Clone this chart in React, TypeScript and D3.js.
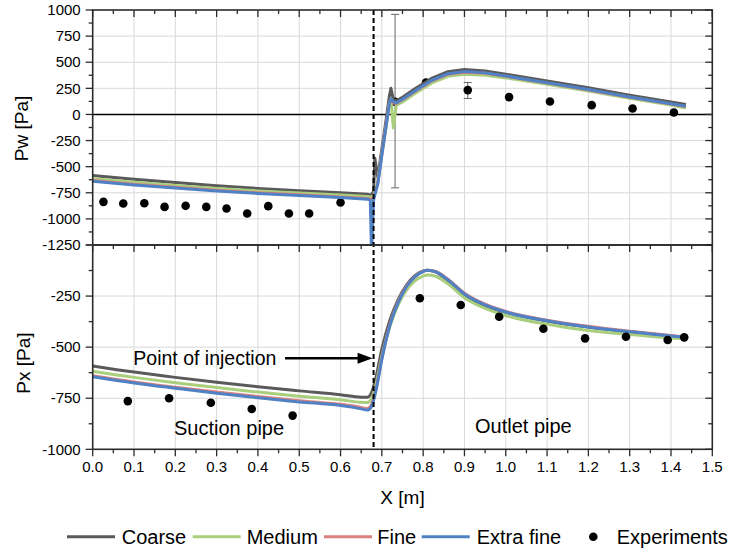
import React from 'react';
import * as d3 from 'd3';

// ---------- data ----------
const seriesNames = ['Coarse', 'Medium', 'Fine', 'Extra fine'];
const seriesColors = ['#5a5a5a', '#a9cf7d', '#dc817d', '#4f81c4'];

const xTicks = [0, 0.1, 0.2, 0.3, 0.4, 0.5, 0.6, 0.7, 0.8, 0.9, 1.0, 1.1, 1.2, 1.3, 1.4, 1.5];
const pwTicks = [1000, 750, 500, 250, 0, -250, -500, -750, -1000, -1250];
const pxTicks = [-250, -500, -750, -1000];

// Pw (top panel)
const pwX = [0, 0.1, 0.2, 0.3, 0.4, 0.5, 0.6, 0.665, 0.672, 0.675, 0.68, 0.683, 0.69, 0.7, 0.71, 0.718, 0.722, 0.728, 0.735, 0.75, 0.78, 0.82, 0.86, 0.9, 0.95, 1.0, 1.1, 1.2, 1.3, 1.4, 1.436];
const pwCoarse = [-585, -620, -652, -682, -708, -730, -750, -765, -770, -765, -740, -420, -600, -330, -60, 170, 250, 140, 130, 165, 245, 345, 410, 430, 415, 385, 320, 255, 185, 120, 96];
const pwMedium = [-615, -650, -680, -708, -732, -752, -772, -785, -790, -790, -780, -740, -640, -380, -120, 100, 150, -130, 90, 120, 200, 300, 365, 385, 375, 350, 290, 225, 155, 90, 62];
const pwFine = [-632, -668, -698, -725, -750, -770, -790, -805, -810, -810, -800, -760, -660, -380, -110, 110, 140, 110, 105, 140, 220, 320, 385, 405, 395, 365, 300, 235, 165, 100, 75];
const pwExtra = [-640, -675, -705, -732, -756, -776, -796, -812, -818, -1320, -820, -770, -670, -390, -120, 100, 150, 120, 110, 145, 225, 325, 390, 410, 398, 368, 303, 238, 168, 103, 78];

const pwExpX = [0.026, 0.074, 0.125, 0.174, 0.225, 0.275, 0.324, 0.374, 0.425, 0.475, 0.524, 0.6, 0.732, 0.807, 0.908, 1.008, 1.107, 1.208, 1.307, 1.407];
const pwExpY = [-837, -852, -850, -885, -875, -885, -900, -948, -878, -948, -948, -843, 121, 305, 233, 166, 124, 89, 57, 19];
const pwErrX = [0.732, 0.908];
const pwErrLo = [-703, 153];
const pwErrHi = [958, 306];

// Px (bottom panel)
const pxX = [0, 0.1, 0.2, 0.3, 0.4, 0.5, 0.6, 0.65, 0.665, 0.675, 0.685, 0.7, 0.72, 0.74, 0.76, 0.78, 0.8, 0.81, 0.83, 0.86, 0.9, 0.95, 1.0, 1.1, 1.2, 1.3, 1.4, 1.436];
const pxCoarse = [-592, -622, -648, -672, -694, -714, -733, -745, -745, -722, -655, -510, -365, -265, -195, -150, -127, -123, -132, -175, -245, -298, -330, -372, -402, -425, -445, -452];
const pxMedium = [-618, -648, -674, -698, -720, -740, -758, -770, -771, -752, -690, -545, -395, -290, -220, -175, -152, -147, -153, -190, -258, -310, -345, -388, -418, -438, -455, -458];
const pxFine = [-640, -670, -696, -720, -742, -762, -780, -795, -800, -780, -712, -555, -385, -275, -200, -155, -129, -124, -130, -168, -236, -290, -325, -368, -398, -422, -443, -451];
const pxExtra = [-645, -675, -701, -726, -748, -768, -786, -802, -808, -790, -720, -560, -390, -280, -203, -156, -130, -124, -131, -170, -240, -293, -328, -371, -401, -425, -445, -452];

const pxExpX = [0.085, 0.185, 0.286, 0.385, 0.484, 0.792, 0.891, 0.984, 1.091, 1.192, 1.291, 1.392, 1.432];
const pxExpY = [-764, -750, -772, -803, -835, -261, -294, -351, -410, -457, -449, -465, -452];

const injectionX = 0.68;

// ---------- layout ----------
const W = 732, H = 553;
const L = 92.7, R = 712.3, T = 10, M = 245, B = 449.3;
const FONT = '"Liberation Sans", Arial, Helvetica, sans-serif';

export default function App() {
  const x = d3.scaleLinear().domain([0, 1.5]).range([L, R]);
  const yw = d3.scaleLinear().domain([-1250, 1000]).range([M, T]);
  const yx = d3.scaleLinear().domain([-1000, 0]).range([B, M]);

  const pwSeries = [pwCoarse, pwMedium, pwFine, pwExtra];
  const pxSeries = [pxCoarse, pxMedium, pxFine, pxExtra];

  const lineW = d3.line<number>().x((_, i) => x(pwX[i])).y((d) => yw(d)).curve(d3.curveLinear);
  const lineX = d3.line<number>().x((_, i) => x(pxX[i])).y((d) => yx(d)).curve(d3.curveMonotoneX);

  const xMinor = d3.range(0, 1.5001, 0.05);
  const pwMinor = d3.range(-1250, 1000.1, 125);
  const pxMinor = d3.range(-1000, 0.1, 125);

  const frame = '#2b2b2b';
  const grid = '#d9d9d9';

  const legendItems = [
    { name: seriesNames[0], color: seriesColors[0], x0: 67, tx: 121.7 },
    { name: seriesNames[1], color: seriesColors[1], x0: 192.7, tx: 246.7 },
    { name: seriesNames[2], color: seriesColors[2], x0: 324, tx: 377.3 },
    { name: seriesNames[3], color: seriesColors[3], x0: 421.7, tx: 476.7 },
  ];
  const legY = 536.7;

  return (
    <svg width={W} height={H} style={{ position: 'absolute', left: 0, top: 0, display: 'block', background: '#fff' }} fontFamily={FONT}>
      <defs>
        <clipPath id="clipTop"><rect x={L} y={T} width={R - L} height={M - T} /></clipPath>
        <clipPath id="clipBot"><rect x={L} y={M} width={R - L} height={B - M} /></clipPath>
      </defs>
      <rect width={W} height={H} fill="#fff" />

      {/* grids */}
      {xTicks.slice(1, -1).map((t) => (
        <g key={'gx' + t}>
          <line x1={x(t)} x2={x(t)} y1={T} y2={M} stroke={grid} strokeWidth={1} />
          <line x1={x(t)} x2={x(t)} y1={M} y2={B} stroke={grid} strokeWidth={1} />
        </g>
      ))}
      {pwTicks.slice(1, -1).filter((t) => t !== 0).map((t) => (
        <line key={'gw' + t} x1={L} x2={R} y1={yw(t)} y2={yw(t)} stroke={grid} strokeWidth={1} />
      ))}
      {pxTicks.slice(0, -1).map((t) => (
        <line key={'gp' + t} x1={L} x2={R} y1={yx(t)} y2={yx(t)} stroke={grid} strokeWidth={1} />
      ))}

      {/* zero line */}
      <line x1={L} x2={R} y1={yw(0)} y2={yw(0)} stroke="#000" strokeWidth={1.5} />

      {/* top panel: experiments (under lines) */}
      <g clipPath="url(#clipTop)">
        {pwErrX.map((ex, i) => (
          <g key={'err' + i} stroke="#666" strokeWidth={1}>
            <line x1={x(ex)} x2={x(ex)} y1={yw(pwErrLo[i])} y2={yw(pwErrHi[i])} />
            <line x1={x(ex) - 4} x2={x(ex) + 4} y1={yw(pwErrLo[i])} y2={yw(pwErrLo[i])} />
            <line x1={x(ex) - 4} x2={x(ex) + 4} y1={yw(pwErrHi[i])} y2={yw(pwErrHi[i])} />
          </g>
        ))}
        {pwExpX.map((ex, i) => (
          <circle key={'pwe' + i} cx={x(ex)} cy={yw(pwExpY[i])} r={4.3} fill="#000" />
        ))}
        {pwSeries.map((s, i) => (
          <path key={'pw' + i} d={lineW(s) || ''} fill="none" stroke={seriesColors[i]} strokeWidth={3} strokeLinejoin="round" />
        ))}
      </g>

      {/* bottom panel */}
      <g clipPath="url(#clipBot)">
        {pxSeries.map((s, i) => (
          <path key={'px' + i} d={lineX(s) || ''} fill="none" stroke={seriesColors[i]} strokeWidth={3} strokeLinejoin="round" />
        ))}
        {pxExpX.map((ex, i) => (
          <circle key={'pxe' + i} cx={x(ex)} cy={yx(pxExpY[i])} r={4.3} fill="#000" />
        ))}
      </g>

      {/* injection dashed line */}
      <line x1={x(injectionX)} x2={x(injectionX)} y1={T} y2={B} stroke="#000" strokeWidth={2} strokeDasharray="5,3" />

      {/* frames */}
      <rect x={L} y={T} width={R - L} height={M - T} fill="none" stroke={frame} strokeWidth={1.6} />
      <rect x={L} y={M} width={R - L} height={B - M} fill="none" stroke={frame} strokeWidth={1.6} />

      {/* x ticks */}
      {xMinor.map((t, i) => {
        const len = i % 2 === 0 ? 7 : 4;
        return (
          <g key={'xt' + i} stroke={frame} strokeWidth={1.3}>
            <line x1={x(t)} x2={x(t)} y1={T} y2={T + len} />
            <line x1={x(t)} x2={x(t)} y1={M} y2={M + len} />
            <line x1={x(t)} x2={x(t)} y1={B} y2={B + len} />
          </g>
        );
      })}
      {/* y ticks top */}
      {pwMinor.map((t, i) => {
        const len = i % 2 === 0 ? 7 : 4;
        return (
          <g key={'ywt' + i} stroke={frame} strokeWidth={1.3}>
            <line x1={L - len} x2={L} y1={yw(t)} y2={yw(t)} />
            <line x1={R - len} x2={R} y1={yw(t)} y2={yw(t)} />
          </g>
        );
      })}
      {pxMinor.map((t, i) => {
        const len = i % 2 === 0 ? 7 : 4;
        return (
          <g key={'yxt' + i} stroke={frame} strokeWidth={1.3}>
            <line x1={L - len} x2={L} y1={yx(t)} y2={yx(t)} />
            <line x1={R - len} x2={R} y1={yx(t)} y2={yx(t)} />
          </g>
        );
      })}

      {/* tick labels */}
      {pwTicks.map((t) => (
        <text key={'lw' + t} x={L - 12} y={yw(t)} dy="0.35em" textAnchor="end" fontSize={15} fill="#000">{t}</text>
      ))}
      {pxTicks.map((t) => (
        <text key={'lx' + t} x={L - 12} y={yx(t)} dy="0.35em" textAnchor="end" fontSize={15} fill="#000">{t}</text>
      ))}
      {xTicks.map((t) => (
        <text key={'lxx' + t} x={x(t)} y={B + 23} textAnchor="middle" fontSize={15} fill="#000">{t.toFixed(1)}</text>
      ))}

      {/* axis titles */}
      <text transform={`translate(28,${(T + M) / 2 + 1}) rotate(-90)`} textAnchor="middle" fontSize={19} fill="#000">Pw [Pa]</text>
      <text transform={`translate(30,${(M + B) / 2 + 16}) rotate(-90)`} textAnchor="middle" fontSize={19} fill="#000">Px [Pa]</text>
      <text x={(L + R) / 2} y={504} textAnchor="middle" fontSize={19} fill="#000">X [m]</text>

      {/* annotations */}
      <text x={133.3} y={365} fontSize={19.5} fill="#000">Point of injection</text>
      <line x1={285} x2={360} y1={358.3} y2={358.3} stroke="#000" strokeWidth={2.5} />
      <path d={`M${x(injectionX) - 1},358.3 L${x(injectionX) - 16},352.8 L${x(injectionX) - 16},363.8 Z`} fill="#000" />
      <text x={174} y={435} fontSize={20} fill="#000">Suction pipe</text>
      <text x={475} y={432.7} fontSize={20} fill="#000">Outlet pipe</text>

      {/* legend */}
      {legendItems.map((it) => (
        <g key={it.name}>
          <line x1={it.x0} x2={it.x0 + 48} y1={legY} y2={legY} stroke={it.color} strokeWidth={3} />
          <text x={it.tx} y={legY} dy="0.35em" fontSize={20} fill="#000">{it.name}</text>
        </g>
      ))}
      <circle cx={593.3} cy={legY} r={4.3} fill="#000" />
      <text x={616.7} y={legY} dy="0.35em" fontSize={20} fill="#000">Experiments</text>
    </svg>
  );
}
